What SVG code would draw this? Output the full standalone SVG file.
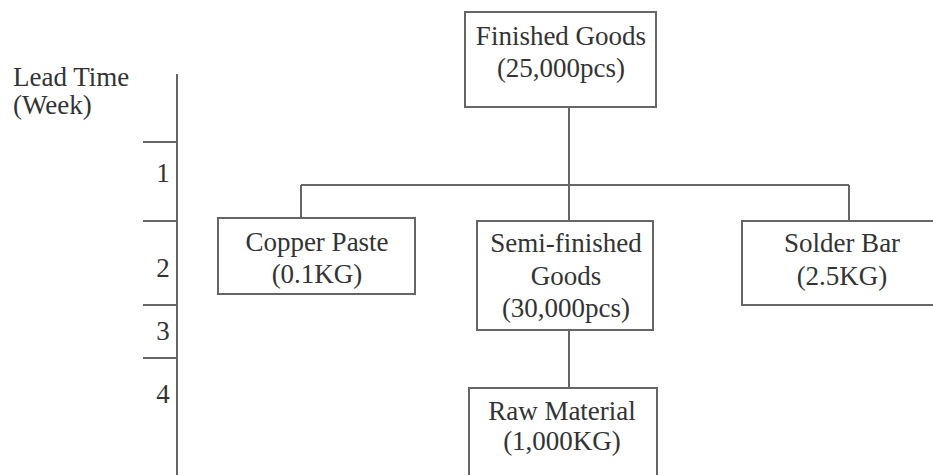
<svg xmlns="http://www.w3.org/2000/svg" width="933" height="475" viewBox="0 0 933 475">
  <style>
    .box { fill: #ffffff; stroke: #666666; stroke-width: 2; }
    .line { fill: none; stroke: #666666; stroke-width: 2; }
    text { font-family: "Liberation Serif", "Times New Roman", serif; font-size: 27px; fill: #333333; }
    .c { text-anchor: middle; }
  </style>
  <rect width="933" height="475" fill="#ffffff"/>

  <!-- lead time axis -->
  <g id="axis">
    <text x="13" y="86">Lead Time</text>
    <text x="13" y="114">(Week)</text>
    <path class="line" d="M177 74 V475 M143 142 H177 M143 221 H177 M143 305 H177 M143 358 H177"/>
    <text class="c" x="163" y="182">1</text>
    <text class="c" x="163" y="277">2</text>
    <text class="c" x="163" y="340">3</text>
    <text class="c" x="163" y="403">4</text>
  </g>

  <!-- connectors -->
  <g id="connectors">
    <path class="line" d="M569 107 V221 M301 185 H849 M301 185 V218 M849 185 V221 M569 330 V388"/>
  </g>

  <g id="finished-goods">
    <rect class="box" x="465" y="12" width="191" height="95"/>
    <text class="c" x="561" y="45">Finished Goods</text>
    <text class="c" x="561" y="77">(25,000pcs)</text>
  </g>

  <g id="copper-paste">
    <rect class="box" x="218" y="218" width="197" height="76"/>
    <text class="c" x="317" y="251">Copper Paste</text>
    <text class="c" x="317" y="283">(0.1KG)</text>
  </g>

  <g id="semi-finished-goods">
    <rect class="box" x="477" y="221" width="176" height="109"/>
    <text class="c" x="566" y="252">Semi-finished</text>
    <text class="c" x="566" y="285">Goods</text>
    <text class="c" x="566" y="317">(30,000pcs)</text>
  </g>

  <g id="solder-bar">
    <rect class="box" x="742" y="221" width="200" height="84"/>
    <text class="c" x="842" y="252">Solder Bar</text>
    <text class="c" x="842" y="285">(2.5KG)</text>
  </g>

  <g id="raw-material">
    <rect class="box" x="469" y="388" width="188" height="100"/>
    <text class="c" x="562" y="420">Raw Material</text>
    <text class="c" x="562" y="450">(1,000KG)</text>
  </g>
</svg>
